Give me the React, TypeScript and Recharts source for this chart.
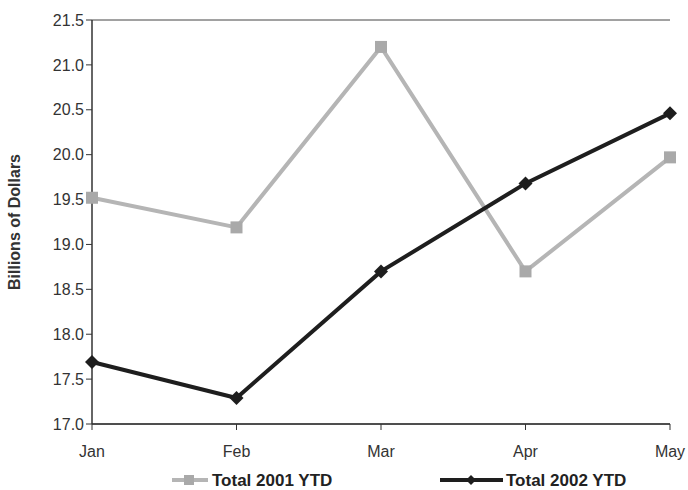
import { LineChart, Line, XAxis, YAxis, CartesianGrid } from 'recharts';

const months = ['Jan', 'Feb', 'Mar', 'Apr', 'May'];
const total2001 = [19.52, 19.19, 21.2, 18.7, 19.97];
const total2002 = [17.69, 17.29, 18.7, 19.68, 20.46];
const yTicks = [17.0, 17.5, 18.0, 18.5, 19.0, 19.5, 20.0, 20.5, 21.0, 21.5];

const chartData = months.map((m, i) => ({
  month: m,
  y2001: total2001[i],
  y2002: total2002[i],
}));

const font = '"Liberation Sans", Arial, sans-serif';

const SquareDot = (props: any) => {
  const { cx, cy } = props;
  if (cx == null || cy == null) return null;
  return <rect x={cx - 6} y={cy - 6} width={12} height={12} fill="#a9a9a9" />;
};

const DiamondDot = (props: any) => {
  const { cx, cy } = props;
  if (cx == null || cy == null) return null;
  return <path d={`M${cx},${cy - 7}L${cx + 7},${cy}L${cx},${cy + 7}L${cx - 7},${cy}Z`} fill="#1e1e1e" />;
};

const LegendRow = () => (
  <g fontFamily={font} fontWeight="bold" fontSize={17}>
    <line x1={172} y1={480} x2={208} y2={480} stroke="#b5b5b5" strokeWidth={4} />
    <rect x={184} y={475} width={10} height={10} fill="#a9a9a9" />
    <text x={212} y={486} fill="#222">Total 2001 YTD</text>
    <line x1={440} y1={480} x2={503} y2={480} stroke="#1e1e1e" strokeWidth={4} />
    <path d="M471,475L476,480L471,485L466,480Z" fill="#1e1e1e" />
    <text x={506} y={486} fill="#222">Total 2002 YTD</text>
  </g>
);

export default function App() {
  return (
    <div style={{ position: 'absolute', left: 0, top: 0, background: '#fff' }}>
      <style>{'body{margin:0}'}</style>
      <LineChart width={688} height={490} data={chartData} margin={{ top: 20, right: 18, bottom: 36, left: 0 }}>
        <CartesianGrid vertical={false} stroke="#444" strokeWidth={1} />
        <XAxis
          dataKey="month"
          padding={{ left: 0, right: 0 }}
          axisLine={{ stroke: '#333', strokeWidth: 1.5 }}
          tickLine={{ stroke: '#333' }}
          tickSize={6}
          tick={{ fill: '#333', fontSize: 16, fontFamily: font, dy: 14 }}
        />
        <YAxis
          yAxisId="left"
          domain={[17, 21.5]}
          ticks={yTicks}
          tickFormatter={(v: number) => v.toFixed(1)}
          width={92}
          axisLine={{ stroke: '#333', strokeWidth: 1.5 }}
          tickLine={{ stroke: '#333' }}
          tickSize={6}
          tick={{ fill: '#333', fontSize: 16, fontFamily: font }}
          label={{
            value: 'Billions of Dollars',
            angle: -90,
            position: 'insideLeft',
            offset: 14,
            style: { fill: '#333', fontSize: 16, fontWeight: 'bold', fontFamily: font, textAnchor: 'middle' },
          }}
        />
        <YAxis
          yAxisId="right"
          orientation="right"
          domain={[17, 21.5]}
          width={0}
          tick={false}
          tickLine={false}
          axisLine={{ stroke: '#444', strokeWidth: 1 }}
        />
        <Line
          yAxisId="left"
          dataKey="y2001"
          stroke="#b5b5b5"
          strokeWidth={4}
          dot={<SquareDot />}
          activeDot={false}
          isAnimationActive={false}
        />
        <Line
          yAxisId="left"
          dataKey="y2002"
          stroke="#1e1e1e"
          strokeWidth={4}
          dot={<DiamondDot />}
          activeDot={false}
          isAnimationActive={false}
        />
        <LegendRow />
      </LineChart>
    </div>
  );
}
